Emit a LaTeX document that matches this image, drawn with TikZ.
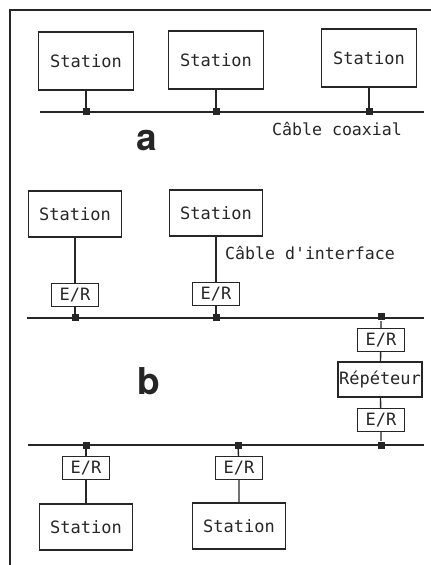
\documentclass[tikz,border=0pt]{standalone}
\usepackage{fontspec}
\setmonofont{DejaVu Sans Mono}
\newfontfamily\lettrefont{TeX Gyre Heros}
\usetikzlibrary{positioning}

\tikzset{
    hop/.style={draw, font=\ttfamily\fontsize{8.5}{10}\selectfont, inner sep=0pt},
    tramA/.style={hop, minimum width=47.5pt, minimum height=29pt},
    tramB/.style={hop, minimum width=46.5pt, minimum height=23pt},
    thuphat/.style={hop, minimum width=23.5pt, minimum height=11.5pt},
    lap/.style={hop, minimum width=42pt, minimum height=17.5pt},
    moc/.style={fill=black!85, draw=none, minimum size=3.5pt, inner sep=0pt},
    nhan/.style={font=\ttfamily\fontsize{8.3}{10}\selectfont, inner sep=0pt},
    chu/.style={font=\lettrefont\bfseries\fontsize{18.5}{20}\selectfont, inner sep=0pt}
}

\begin{document}
\begin{tikzpicture}[x=0.5pt, y=-0.5pt, line width=0.7pt, color=black!85]
    \useasboundingbox (0,0) rectangle (431,565);
    % Khung
    \draw (10,565) -- (10,10) -- (431,10);

    % Hình a: cáp đồng trục
    \coordinate (ca1) at (40,112);
    \coordinate (ca2) at (424,112);
    \draw (ca1) -- (ca2);
    \node[tramA] (sa1) at (86,61) {Station};
    \node[tramA] (sa2) at (216,60) {Station};
    \node[tramA] (sa3) at (369,58) {Station};
    \node[moc] (ma1) at (86,112) {};
    \node[moc] (ma2) at (216,112) {};
    \node[moc] (ma3) at (369,112) {};
    \draw (sa1) -- (ma1);
    \draw (sa2) -- (ma2);
    \draw (sa3) -- (ma3);
    \node[nhan] (coax) at (337,129) {Câble coaxial};
    \node[chu] (la) at (147,141) {a};

    % Hình b: đoạn trên
    \coordinate (cb1) at (27,318);
    \coordinate (cb2) at (424,318);
    \draw (cb1) -- (cb2);
    \node[tramB] (sb1) at (75,214) {Station};
    \node[tramB] (sb2) at (216,213) {Station};
    \node[thuphat] (eb1) at (75,295) {E/R};
    \node[thuphat] (eb2) at (216,294) {E/R};
    \node[moc] (mb1) at (75,318) {};
    \node[moc] (mb2) at (216,318) {};
    \draw (sb1) -- (eb1) -- (mb1);
    \draw (sb2) -- (eb2) -- (mb2);
    \node[nhan] (giaodien) at (310,253) {Câble d'interface};

    % Bộ lặp
    \node[moc] (mr1) at (381,317) {};
    \node[thuphat] (er1) at (381,340) {E/R};
    \node[lap] (rep) at (380,379.5) {Répéteur};
    \node[thuphat] (er2) at (381,420) {E/R};
    \node[moc] (mr2) at (381,445) {};
    \draw (mr1) -- (er1) -- (rep) -- (er2) -- (mr2);
    \node[chu] (lb) at (148.5,381.5) {b};

    % Hình b: đoạn dưới
    \coordinate (cc1) at (28,445);
    \coordinate (cc2) at (424,445);
    \draw (cc1) -- (cc2);
    \node[moc] (mc1) at (86,445) {};
    \node[moc] (mc2) at (238,445) {};
    \node[thuphat] (ec1) at (86,468) {E/R};
    \node[thuphat] (ec2) at (239,468) {E/R};
    \node[tramB] (sc1) at (86,527) {Station};
    \node[tramB] (sc2) at (239,526) {Station};
    \draw (mc1) -- (ec1) -- (sc1);
    \draw (mc2) -- (ec2) -- (sc2);
\end{tikzpicture}
\end{document}
